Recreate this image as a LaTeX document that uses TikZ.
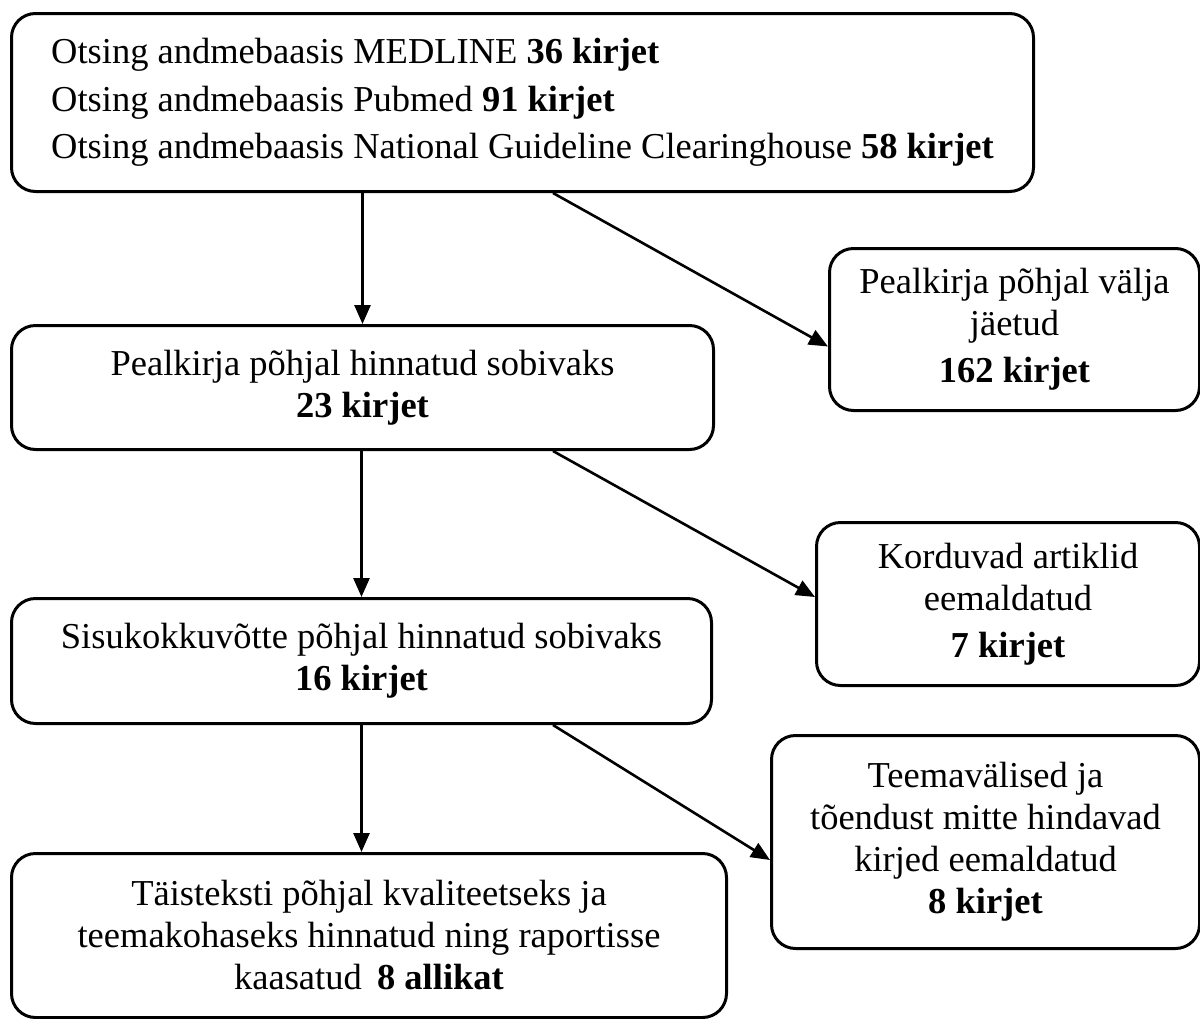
\documentclass[tikz,border=0pt]{standalone}
\usepackage{fontspec}
\setmainfont{Liberation Serif}
\usetikzlibrary{arrows.meta,calc}
\begin{document}
\begin{tikzpicture}[x=1pt,y=-1pt,
  box/.style={draw, line width=3pt, rounded corners=24pt, anchor=north west,
    inner sep=0pt, align=center, font=\fontsize{36.5}{42}\selectfont},
  arr/.style={line width=2.6pt, -{Triangle[length=19pt,width=16pt]}}]
\useasboundingbox (0,0) rectangle (1200,1018);
\node[box, minimum width=1022pt, minimum height=178pt, align=left,
  font=\fontsize{36.5}{47.5}\selectfont] (b1) at (10,12)
  {Otsing andmebaasis MEDLINE \textbf{36 kirjet}\\
   Otsing andmebaasis Pubmed \textbf{91 kirjet}\\
   Otsing andmebaasis National Guideline Clearinghouse \textbf{58 kirjet}};
\node[box, minimum width=370pt, minimum height=162pt] (b2) at (828,247)
  {Pealkirja põhjal välja\\jäetud\\[5pt]\textbf{162 kirjet}};
\node[box, minimum width=702pt, minimum height=124pt] (b3) at (10,324)
  {Pealkirja põhjal hinnatud sobivaks\\\textbf{23 kirjet}};
\node[box, minimum width=383pt, minimum height=163pt] (b4) at (815,521)
  {Korduvad artiklid\\eemaldatud\\[5pt]\textbf{7 kirjet}};
\node[box, minimum width=700pt, minimum height=125pt] (b5) at (10,597)
  {Sisukokkuvõtte põhjal hinnatud sobivaks\\\textbf{16 kirjet}};
\node[box, minimum width=428pt, minimum height=213pt] (b6) at (770,734)
  {Teemavälised ja\\tõendust mitte hindavad\\kirjed eemaldatud\\\textbf{8 kirjet}};
\node[box, minimum width=715pt, minimum height=164pt] (b7) at (10,852)
  {Täisteksti põhjal kvaliteetseks ja\\teemakohaseks hinnatud ning raportisse\\kaasatud\hspace{0.42em}\textbf{8 allikat}};
\draw[arr] (b3.north |- b1.south) -- (b3.north);
\draw[arr] (b5.north |- b3.south) -- (b5.north);
\draw[arr] (b5.south) -- (b5.south |- b7.north);
\draw[arr] ($(b1.south west)+(543,0)$) -- ($(b2.west)+(0,17)$);
\draw[arr] ($(b3.south west)+(543,0)$) -- ($(b4.west)+(0,-7)$);
\draw[arr] ($(b5.south west)+(543,0)$) -- ($(b6.west)+(0,18)$);
\end{tikzpicture}
\end{document}
